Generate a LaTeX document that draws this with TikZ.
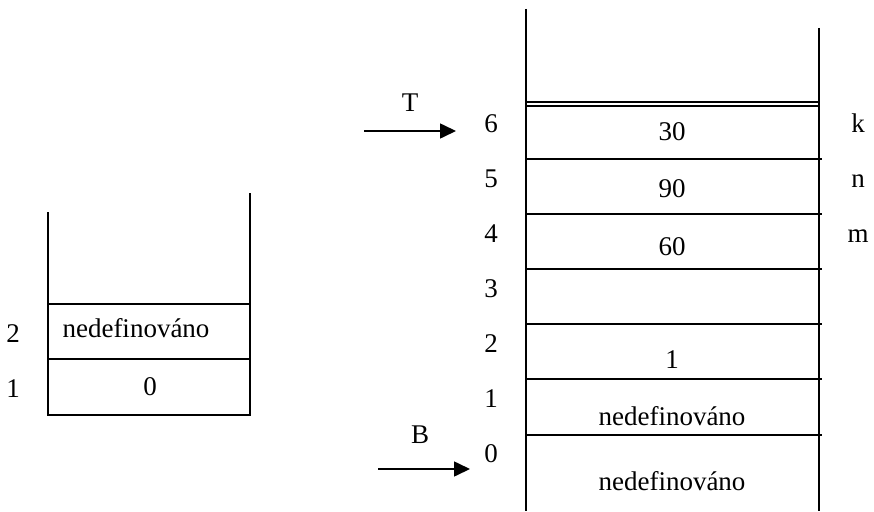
\documentclass[tikz,border=0pt]{standalone}
\usepackage{fontspec}
\setmainfont{Liberation Serif}
\usetikzlibrary{arrows.meta}
\begin{document}
\begin{tikzpicture}[x=1pt,y=-1pt,line width=1.6pt,
  txt/.style={anchor=base,inner sep=0pt,font=\fontsize{27}{32}\selectfont},
  ptr/.style={-{Triangle[length=16pt,width=15pt]}}]
 \useasboundingbox (0,0) rectangle (874,511);
 % left stack
 \draw (48,212)--(48,415)--(250,415)--(250,193);
 \draw (48,304)--(250,304);
 \draw (48,359)--(250,359);
 \node[txt] (l2) at (13,342) {2};
 \node[txt] (l1) at (13,397) {1};
 \node[txt] (lv2) at (136,337) {nedefinováno};
 \node[txt] (lv1) at (150,395) {0};
 % right stack
 \draw (526,9)--(526,511);
 \draw (819,28)--(819,511);
 \draw (526,102)--(819,102);
 \draw (526,106)--(819,106);
 \draw (526,159)--(822,159);
 \draw (526,214)--(822,214);
 \draw (526,269)--(822,269);
 \draw (526,324)--(822,324);
 \draw (526,379)--(822,379);
 \draw (526,435)--(822,435);
 \node[txt] (r6) at (491,132) {6};
 \node[txt] (r5) at (491,187) {5};
 \node[txt] (r4) at (491,242) {4};
 \node[txt] (r3) at (491,297) {3};
 \node[txt] (r2) at (491,352) {2};
 \node[txt] (r1) at (491,407) {1};
 \node[txt] (r0) at (491,462) {0};
 \node[txt] (rv6) at (672,140) {30};
 \node[txt] (rv5) at (672,197) {90};
 \node[txt] (rv4) at (672,255) {60};
 \node[txt] (rv2) at (672,368) {1};
 \node[txt] (rv1) at (672,425) {nedefinováno};
 \node[txt] (rv0) at (672,490) {nedefinováno};
 \node[txt] (k) at (858,132) {k};
 \node[txt] (n) at (858,187) {n};
 \node[txt] (m) at (858,242) {m};
 % pointers
 \node[txt] (T) at (410,111) {T};
 \node[txt] (B) at (420,443) {B};
 \coordinate (Tfrom) at (364,131);
 \coordinate (Tto) at (456,131);
 \coordinate (Bfrom) at (378,469);
 \coordinate (Bto) at (470,469);
 \draw[ptr] (Tfrom)--(Tto);
 \draw[ptr] (Bfrom)--(Bto);
\end{tikzpicture}
\end{document}
